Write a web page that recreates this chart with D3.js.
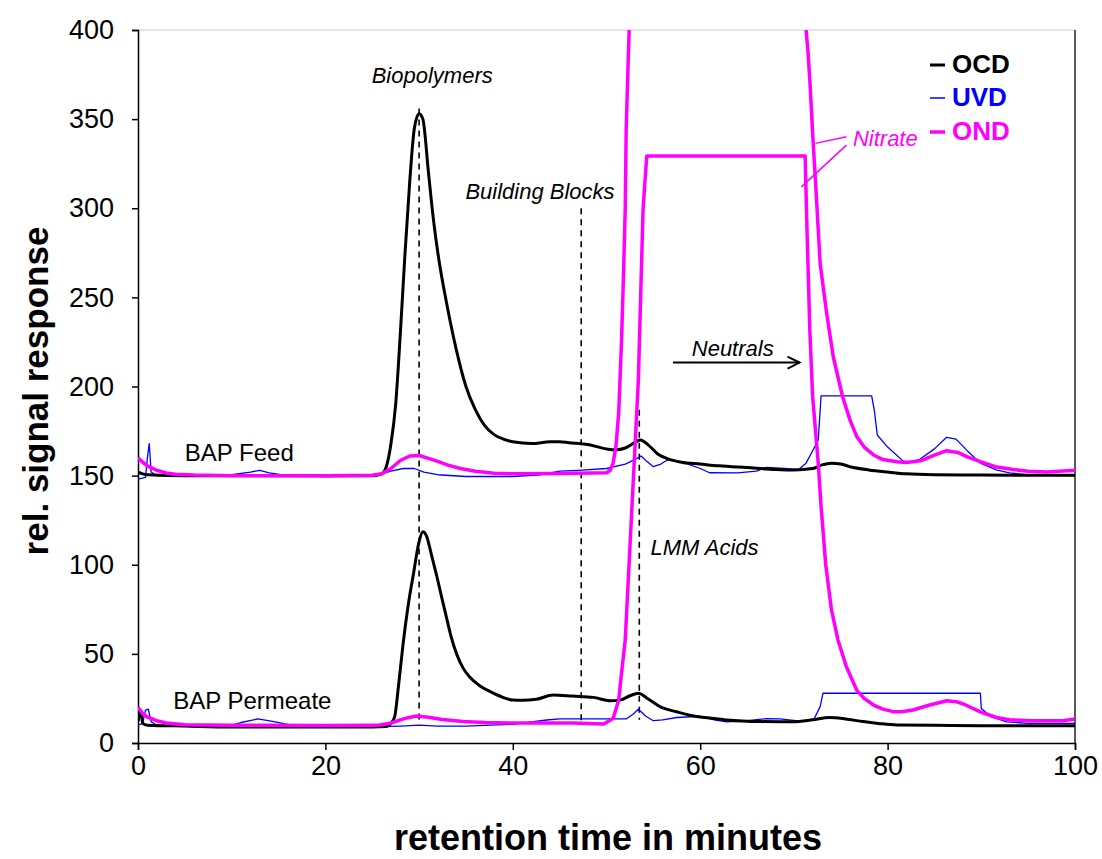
<!DOCTYPE html>
<html>
<head>
<meta charset="utf-8">
<script src="https://cdn.jsdelivr.net/npm/d3@7"></script>
<style>
  body { margin: 0; background: #fff; }
  text { font-family: Arial, "Liberation Sans", sans-serif; }
</style>
</head>
<body>
<div id="chart"></div>
<script>
// retention time (min) vs relative signal
var ocdFeed = [[0,152],[0.5,151],[1,150.5],[5,150],[10,150],[15,150],[20,150],[25,150],[26,151],[26.5,155],[27,168],[27.5,190],[28,230],[28.5,275],[29,315],[29.5,345],[30,353],[30.4,350],[31,320],[31.5,295],[32,275],[33,245],[34,220],[35,200],[36,187],[37,178],[38,173],[39,170.5],[40,169],[42,168],[44,169],[45,169],[46,168.5],[48,167.5],[50,165],[51,164.5],[52,165.5],[53,168.5],[53.6,170],[54.5,167],[55.5,162],[56.5,159.5],[58,157.5],[60,156.5],[62,155.5],[65,154.5],[68,153.5],[70,153.2],[72,154],[73,156],[74,157],[75,156.5],[76,155],[78,153.2],[80,152],[82,151],[85,150.5],[90,150.3],[95,150.2],[100,150.2]];

var uvdFeed = [[0,148],[0.8,149],[1.0,160],[1.2,168],[1.4,152],[2,150],[5,150],[10,150.5],[12,152],[13,153],[14,151.5],[16,150],[20,149.5],[25,150],[26,151],[27,152.5],[28.3,154],[29.5,154],[30.5,152],[32,150.5],[35,149.5],[40,149.5],[43,150.5],[45,152.5],[47,153],[50,154],[52,156.5],[53,159],[53.7,161],[54.3,158],[55,155],[55.8,156.5],[56.5,158.8],[58.4,157],[60,154],[61,151.6],[64,151.5],[66,152.5],[67.1,154.6],[69,154],[70.5,153.4],[71.3,157],[71.9,163],[72.6,170],[72.9,194.7],[78.3,194.7],[78.6,186],[78.9,172.8],[80,166],[81.7,158],[82.5,158],[83.4,159],[85,165],[86.3,171.5],[87.3,170.5],[88.5,164],[89.9,157],[91.6,153.2],[93,151.5],[95.5,150.3],[100,150]];

var ondFeed = [[0,160],[0.5,157.5],[1,155.5],[2,153],[3,151.5],[4,150.8],[6,150.3],[10,150],[20,150],[25,150.2],[26,151],[27,154],[28,158.5],[29,161],[30,161.3],[31,159.7],[32,158],[33,156],[34.4,154],[36,152.5],[38,151.3],[40,151],[45,151.2],[50,151.6],[50.4,153],[50.7,157],[51,166],[51.3,185],[51.6,225],[51.8,260],[52,300],[52.1,344],[52.3,380],[52.6,430],[71,430],[71.3,400],[71.5,388],[71.7,372],[72,342],[72.4,306.5],[72.8,269],[73.5,241],[74.2,216.7],[75.2,194.2],[76,181],[76.7,172],[77.5,166],[78.5,161.6],[79.5,159],[81,157.8],[82,157.3],[83.5,158.3],[85,161.5],[86.3,164],[87.5,163],[88.5,160.5],[89.9,157.8],[91.5,155],[93.4,153.4],[95,152.5],[97,152],[100,153]];

var ocdPerm = [[0,12],[0.3,18],[0.5,11],[1,10],[5,9.5],[10,9],[15,9],[20,9],[25,9],[26.5,9.2],[27,11],[27.4,15],[27.8,32],[28.3,56],[28.8,76],[29.4,95],[30,113],[30.4,118.5],[30.8,116],[31.3,106],[31.9,93.3],[32.4,82],[32.9,70.9],[33.4,60],[34,50],[34.7,42],[35.4,37],[36.5,32],[37.6,28.8],[39,25.5],[40,24.1],[41,24],[42.5,24.5],[44.3,26.9],[46.4,26.3],[48.6,25.6],[50.4,23.7],[51.5,24.2],[52.5,26.5],[53.4,27.9],[54.5,24.5],[55.7,20.4],[57.5,17.5],[59.3,15.1],[61,14],[62.8,12.9],[66.4,12],[69.9,11.9],[72,13],[73.8,14.3],[75.5,13.5],[77.4,12],[79,11],[81,10.1],[85,9.9],[89.9,9.7],[95,9.7],[100,9.7]];

var uvdPerm = [[0,10],[0.5,11],[0.8,18.5],[1.1,19],[1.4,12],[2,10],[5,9.5],[10,10],[11,11.5],[12.8,13.5],[14.5,12],[16.9,9.5],[20,9],[25,9],[28,9.5],[30,10],[32,9.5],[35,9.5],[40,10.5],[43.6,12.9],[45,13.5],[50,13.5],[52.1,13.5],[52.8,16],[53.4,18.9],[54.2,15],[55,12.5],[56,13],[57.5,14.3],[60,15],[61.5,13],[62.8,11.9],[65,12.5],[67.1,13.7],[68.5,13.5],[70.7,12.3],[72.1,12.9],[72.8,20.4],[73.1,27.9],[89.9,27.9],[90,19.4],[91,15],[92.7,11.9],[95,11],[100,11]];

var ondPerm = [[0,20],[0.5,16.5],[1,14.5],[2,12.5],[3,11.2],[5,10.3],[10,10],[20,9.8],[25,10],[25.8,10.1],[27,11.2],[28.5,13.8],[29.7,15.1],[31,14.5],[32.5,13.2],[34.7,12],[37,11.5],[40,11.2],[46.4,11.2],[49.7,10.7],[50.7,13.8],[51.3,24],[51.6,39],[52,57.8],[52.7,130.7],[53.4,203.6],[53.9,299],[54.1,315],[54.3,329.3],[71.2,329.3],[71.4,287.8],[71.7,231.7],[72,194.3],[72.6,156.9],[72.9,132.6],[73.4,100],[74,75],[74.7,57.8],[75.6,42.8],[76.7,29.7],[77.5,25],[78.5,21.3],[79.5,19],[80.6,17.6],[81.5,17.5],[82.7,18.5],[84.5,21.3],[86.3,23.7],[87.3,23.2],[88.1,21.9],[89.9,17.5],[91.6,14.3],[93,13],[95.2,12.5],[98.7,12.5],[100,13.5]];

// dashed marker lines: [x, yTop, yBottom]
var markers = [[30,356,13],[47.3,300,10],[53.5,187,13]];

var xTicks = [0, 20, 40, 60, 80, 100];
var yTicks = [0, 50, 100, 150, 200, 250, 300, 350, 400];

var svgWidth = 1102;
var svgHeight = 859;
var margin = { top: 30, right: 27, bottom: 116, left: 138 };
var width = svgWidth - margin.left - margin.right;
var height = svgHeight - margin.top - margin.bottom;

var svg = d3.select("#chart")
    .append("svg")
    .attr("width", svgWidth)
    .attr("height", svgHeight);

svg.append("defs").append("clipPath")
    .attr("id", "plotclip")
    .append("rect")
    .attr("width", width)
    .attr("height", height);

var chartGroup = svg.append("g")
    .attr("transform", `translate(${margin.left}, ${margin.top})`);

var xscale = d3.scaleLinear().domain([0, 100]).range([0, width]);
var yscale = d3.scaleLinear().domain([0, 400]).range([height, 0]);

// plot frame (top grey, right dark)
chartGroup.append("line")
    .attr("x1", 0).attr("x2", width).attr("y1", 0).attr("y2", 0)
    .attr("stroke", "#c8c8c8").attr("stroke-width", 1);
chartGroup.append("line")
    .attr("x1", width).attr("x2", width).attr("y1", 0).attr("y2", height)
    .attr("stroke", "#222").attr("stroke-width", 1.5);

// axes
var bottomAxis = d3.axisBottom(xscale).tickValues(xTicks).tickSize(7).tickPadding(6);
var leftAxis = d3.axisLeft(yscale).tickValues(yTicks).tickSize(6).tickPadding(18);

var xAxis = chartGroup.append("g")
    .attr("transform", `translate(0, ${height})`)
    .call(bottomAxis);
var yAxis = chartGroup.append("g").call(leftAxis);

[xAxis, yAxis].forEach(function (ax) {
    ax.select(".domain").attr("stroke", "#000").attr("stroke-width", 1.5);
    ax.selectAll(".tick line").attr("stroke", "#000").attr("stroke-width", 1.5);
    ax.selectAll("text")
        .attr("font-family", "Arial, 'Liberation Sans', sans-serif")
        .attr("font-size", 27)
        .attr("fill", "#000");
});

// dashed marker lines
chartGroup.selectAll(".marker")
    .data(markers)
    .enter()
    .append("line")
    .attr("x1", d => xscale(d[0])).attr("x2", d => xscale(d[0]))
    .attr("y1", d => yscale(d[1])).attr("y2", d => yscale(d[2]))
    .attr("stroke", "#000").attr("stroke-width", 1.6)
    .attr("stroke-dasharray", "6,5");

var line = d3.line().x(d => xscale(d[0])).y(d => yscale(d[1]));
var smooth = d3.line().curve(d3.curveMonotoneX).x(d => xscale(d[0])).y(d => yscale(d[1]));

var curves = chartGroup.append("g").attr("clip-path", "url(#plotclip)");
var series = [
    { data: uvdFeed, color: "#0000ff", w: 1.3, gen: line },
    { data: uvdPerm, color: "#0000ff", w: 1.3, gen: line },
    { data: ocdFeed, color: "#000000", w: 3, gen: smooth },
    { data: ocdPerm, color: "#000000", w: 3, gen: smooth },
    { data: ondFeed, color: "#ff00ff", w: 3.5, gen: line },
    { data: ondPerm, color: "#ff00ff", w: 3.5, gen: line }
];
series.forEach(function (s) {
    curves.append("path")
        .datum(s.data)
        .attr("fill", "none")
        .attr("stroke", s.color)
        .attr("stroke-width", s.w)
        .attr("stroke-linejoin", "round")
        .attr("d", s.gen);
});

// annotations
function label(x, y, txt, opts) {
    opts = opts || {};
    return chartGroup.append("text")
        .attr("x", xscale(x)).attr("y", yscale(y))
        .attr("font-size", opts.size || 22)
        .attr("font-style", opts.italic ? "italic" : "normal")
        .attr("font-weight", opts.bold ? "bold" : "normal")
        .attr("fill", opts.color || "#000")
        .attr("text-anchor", opts.anchor || "start")
        .text(txt);
}
label(31.4, 370, "Biopolymers", { italic: true, anchor: "middle" });
label(42.9, 305, "Building Blocks", { italic: true, anchor: "middle" });
label(59.1, 217, "Neutrals", { italic: true });
label(54.7, 105.5, "LMM Acids", { italic: true });
label(76.3, 335, "Nitrate", { italic: true, color: "#ff00ff" });
label(5, 158, "BAP Feed", { size: 24 });
label(3.75, 19, "BAP Permeate", { size: 24 });

// neutrals arrow
chartGroup.append("line")
    .attr("x1", xscale(57.1)).attr("x2", xscale(70.6))
    .attr("y1", yscale(213.4)).attr("y2", yscale(213.4))
    .attr("stroke", "#000").attr("stroke-width", 2);
chartGroup.append("path")
    .attr("d", `M${xscale(70.6) - 12},${yscale(213.4) - 6} L${xscale(70.6)},${yscale(213.4)} L${xscale(70.6) - 12},${yscale(213.4) + 6}`)
    .attr("fill", "none").attr("stroke", "#000").attr("stroke-width", 2);

// nitrate pointers
var pointers = [[[75.6, 340.1], [72.3, 336.4]], [[75.6, 335.4], [70.8, 312]]];
chartGroup.selectAll(".ptr")
    .data(pointers)
    .enter()
    .append("line")
    .attr("x1", d => xscale(d[0][0])).attr("y1", d => yscale(d[0][1]))
    .attr("x2", d => xscale(d[1][0])).attr("y2", d => yscale(d[1][1]))
    .attr("stroke", "#ff00ff").attr("stroke-width", 1.5);

// legend
var legend = [
    { name: "OCD", color: "#000000", w: 3, y: 73 },
    { name: "UVD", color: "#0000ff", w: 1.5, y: 106 },
    { name: "OND", color: "#ff00ff", w: 3.5, y: 140 }
];
legend.forEach(function (l) {
    svg.append("line")
        .attr("x1", 930).attr("x2", 945)
        .attr("y1", l.y - 8).attr("y2", l.y - 8)
        .attr("stroke", l.color).attr("stroke-width", l.w);
    svg.append("text")
        .attr("x", 952).attr("y", l.y)
        .attr("font-size", 26).attr("font-weight", "bold")
        .attr("fill", l.color)
        .text(l.name);
});

// axis titles
svg.append("text")
    .attr("transform", "translate(48, 391) rotate(-90)")
    .attr("text-anchor", "middle")
    .attr("font-size", 35).attr("font-weight", "bold")
    .text("rel. signal response");

svg.append("text")
    .attr("x", 608).attr("y", 850)
    .attr("text-anchor", "middle")
    .attr("font-size", 36).attr("font-weight", "bold")
    .text("retention time in minutes");
</script>
</body>
</html>
